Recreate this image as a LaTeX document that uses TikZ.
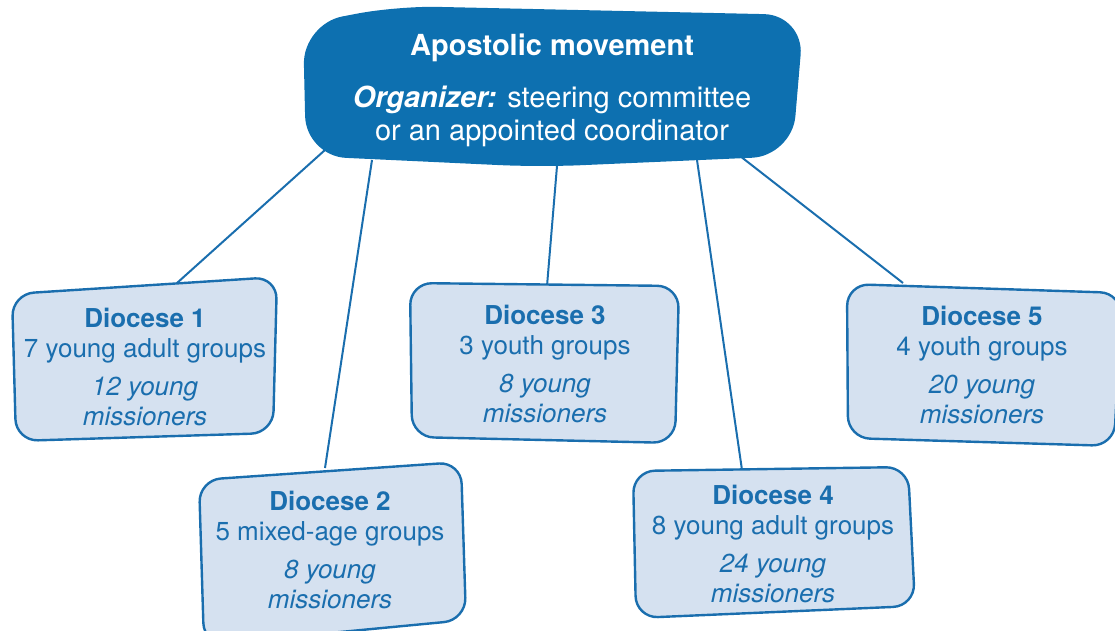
\documentclass[tikz,border=0pt]{standalone}
\usepackage{fontspec}
\setmainfont{TeX Gyre Heros}
\definecolor{dblue}{HTML}{0D70B0}
\definecolor{lblue}{HTML}{D5E1F0}
\definecolor{tblue}{HTML}{1A6EAE}
\tikzset{
  conn/.style={draw=tblue, line width=2pt},
  dbox/.style={draw=tblue, fill=lblue, line width=2.4pt, rounded corners=22pt},
  dtext/.style={text=tblue, align=center, font=\fontsize{26}{30.5}\selectfont, inner sep=0pt},
  ttext/.style={text=white, align=center, font=\fontsize{29}{33}\selectfont, inner sep=0pt}
}
\begin{document}
\begin{tikzpicture}[x=1pt,y=-1pt]
\useasboundingbox (0,0) rectangle (1115,631);
% attachment points
\coordinate (a1) at (325,150);
\coordinate (a2) at (372,160);
\coordinate (a3) at (557,166);
\coordinate (a4) at (697,160);
\coordinate (a5) at (740,156);
\coordinate (b1) at (177,283);
\coordinate (b2) at (325,468);
\coordinate (b3) at (547,286);
\coordinate (b4) at (742,470);
\coordinate (b5) at (903,283);
% connectors
\draw[conn] (a1) -- (b1);
\draw[conn] (a2) -- (b2);
\draw[conn] (a3) -- (b3);
\draw[conn] (a4) -- (b4);
\draw[conn] (a5) -- (b5);
% top blob
\fill[dblue, rounded corners=40pt] (303,24) -- (397,6) -- (804,15) -- (792,156) -- (540,167) -- (306,156) -- cycle;
% boxes
\draw[dbox] (12,294) -- (277,277) -- (273,433) -- (16,441) -- cycle;
\draw[dbox] (199,480) -- (461,462) -- (466,620) -- (204,645) -- cycle;
\draw[dbox] (410,283) -- (679,286) -- (675,443) -- (412,437) -- cycle;
\draw[dbox] (633,471) -- (908,467) -- (915,606) -- (636,618) -- cycle;
\draw[dbox] (847,284) -- (1122,293) -- (1114,446) -- (848,438) -- cycle;
% texts
\node[ttext] (top) at (552,90) {\textbf{Apostolic movement}\\[19pt]\textbf{\textit{Organizer:}} steering committee\\or an appointed coordinator};
\node[dtext] (d1) at (145,367) {\textbf{Diocese 1}\\7 young adult groups\\[7pt]\textit{12 young}\\\textit{missioners}};
\node[dtext] (d2) at (330,550) {\textbf{Diocese 2}\\5 mixed-age groups\\[7pt]\textit{8 young}\\\textit{missioners}};
\node[dtext] (d3) at (545,364) {\textbf{Diocese 3}\\3 youth groups\\[7pt]\textit{8 young}\\\textit{missioners}};
\node[dtext] (d4) at (773,544) {\textbf{Diocese 4}\\8 young adult groups\\[7pt]\textit{24 young}\\\textit{missioners}};
\node[dtext] (d5) at (982,365) {\textbf{Diocese 5}\\4 youth groups\\[7pt]\textit{20 young}\\\textit{missioners}};
\end{tikzpicture}
\end{document}
